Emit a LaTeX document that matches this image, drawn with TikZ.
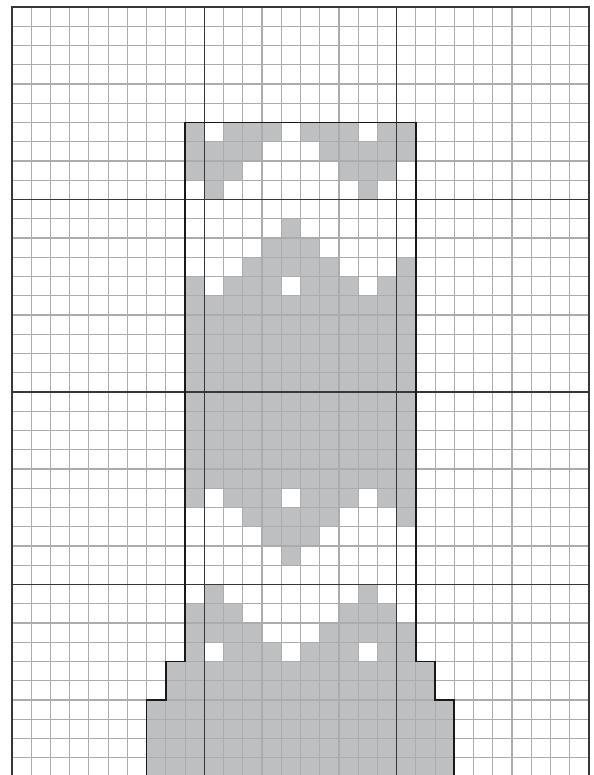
\documentclass[tikz,border=0pt]{standalone}
\definecolor{minorline}{RGB}{172,172,172}
\definecolor{majorline}{RGB}{55,55,55}
\definecolor{cellgray}{RGB}{190,191,193}
\tikzset{
  minorgrid/.style={draw=minorline, line width=0.85pt},
  majorgrid/.style={draw=majorline, line width=1.1pt},
  outerframe/.style={draw=majorline, line width=1.7pt},
  pieceoutline/.style={draw=black!90, line width=1.3pt, line join=miter},
  cellfill/.style={fill=cellgray}
}
\begin{document}
\begin{tikzpicture}[x=14.425pt, y=-14.4375pt]
\useasboundingbox (-0.624,-0.364) rectangle (30.26,39.90);
\fill[white] (-0.624,-0.364) rectangle (30.26,39.90);
% gray cells, pattern rows
\foreach \r/\cols in {
  6/{9,11,12,13,15,16,17,19,20},
  7/{9,10,11,12,16,17,18,19,20},
  8/{9,10,11,17,18,19},
  9/{10,18},
  11/{14},
  12/{13,14,15},
  13/{12,13,14,15,16,20},
  14/{9,11,12,13,15,16,17,19,20},
  25/{9,11,12,13,15,16,17,19,20},
  26/{12,13,14,15,16,20},
  27/{13,14,15},
  28/{14},
  30/{10,18},
  31/{9,10,11,17,18,19},
  32/{9,10,11,12,16,17,18,19,20},
  33/{9,11,12,13,15,16,17,19,20}}{
  \foreach \c in \cols {\fill[cellfill] (\c,\r) rectangle ++(1,1);}
}
\fill[cellfill] (9,15) rectangle (21,25);
\fill[cellfill] (8,34) rectangle (22,36);
\fill[cellfill] (7,36) rectangle (23,40);
% grid
\foreach \x in {1,...,29} {\draw[minorgrid] (\x,0) -- (\x,40);}
\foreach \y in {1,...,39} {\draw[minorgrid] (0,\y) -- (30,\y);}
\foreach \x in {10,20} {\draw[majorgrid] (\x,0) -- (\x,40);}
\foreach \y in {10,20,30} {\draw[majorgrid] (0,\y) -- (30,\y);}
\draw[outerframe] (0,0) rectangle (30,40);
% piece outline
\draw[pieceoutline] (7,40.5) -- (7,36) -- (8,36) -- (8,34) -- (9,34) -- (9,6) -- (21,6) -- (21,34) -- (22,34) -- (22,36) -- (23,36) -- (23,40.5);
\end{tikzpicture}
\end{document}
